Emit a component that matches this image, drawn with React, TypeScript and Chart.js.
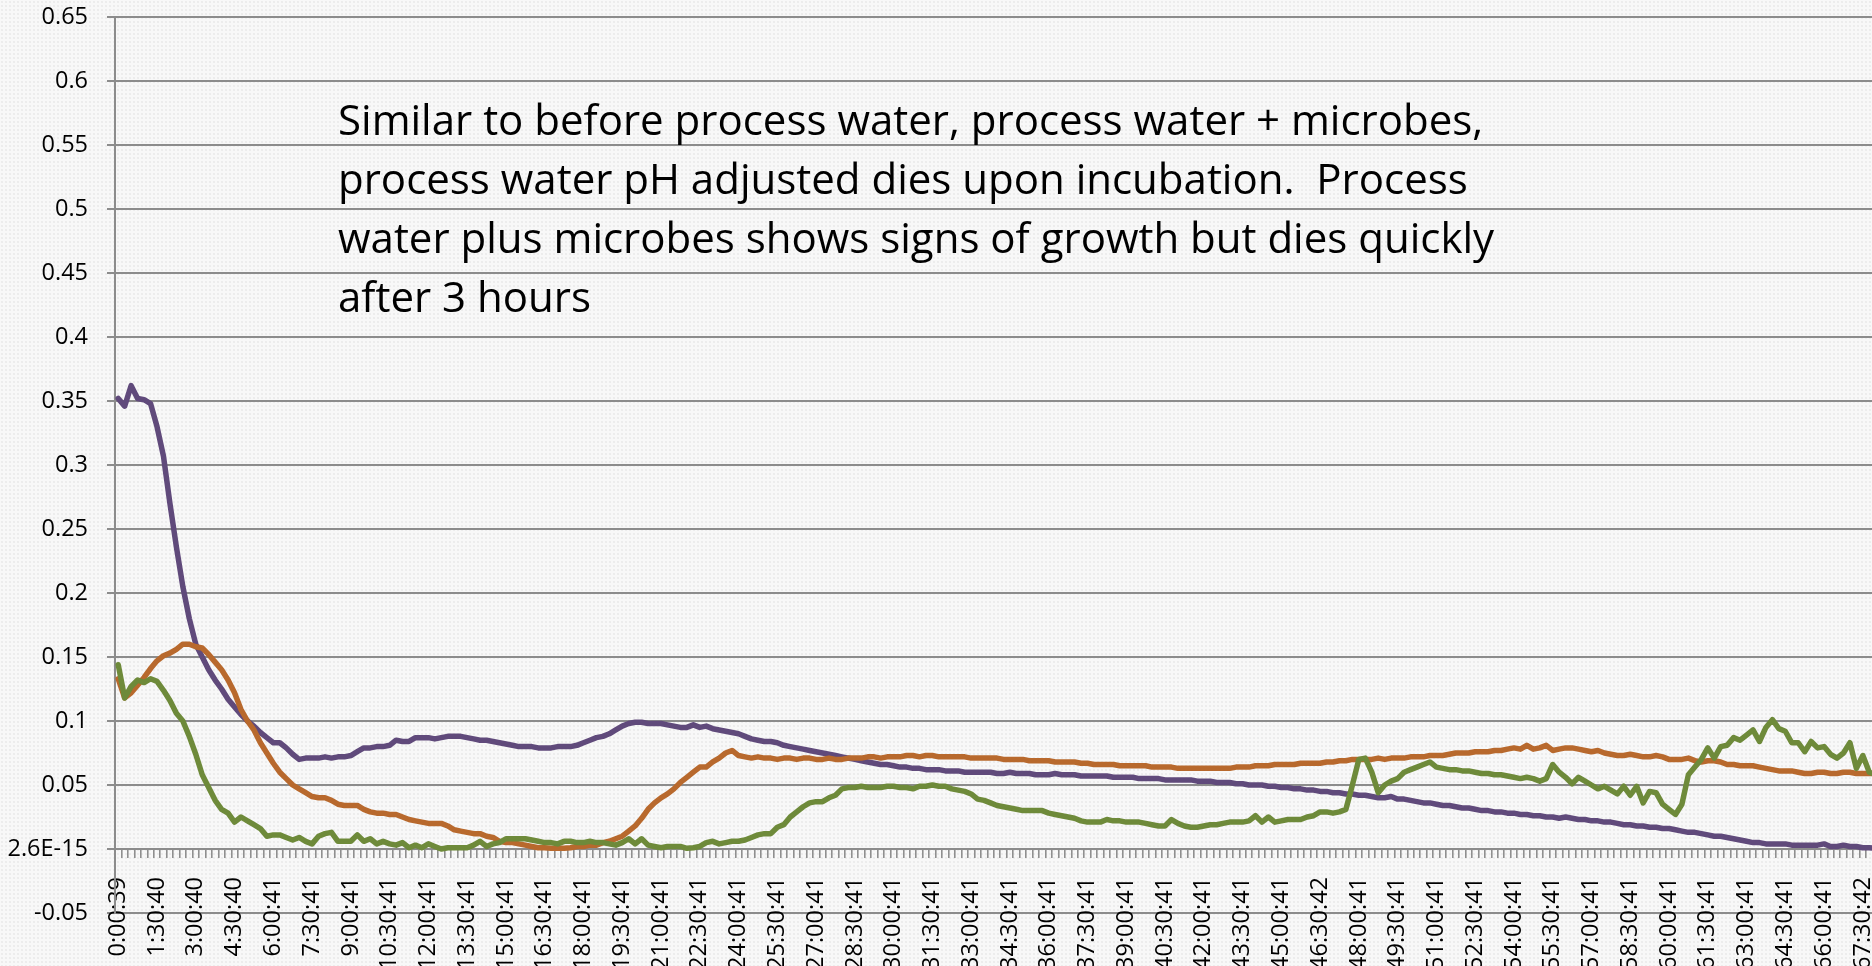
import React, { useEffect, useRef } from 'react';
import { Chart, registerables } from 'chart.js';

Chart.register(...registerables);

// Tick labels shown on the category axis (every 6th sample, 15-minute sampling)
const TICK_LABELS: string[] = [
  '0:00:39', '1:30:40', '3:00:40', '4:30:40', '6:00:41', '7:30:41', '9:00:41', '10:30:41',
  '12:00:41', '13:30:41', '15:00:41', '16:30:41', '18:00:41', '19:30:41', '21:00:41', '22:30:41',
  '24:00:41', '25:30:41', '27:00:41', '28:30:41', '30:00:41', '31:30:41', '33:00:41', '34:30:41',
  '36:00:41', '37:30:41', '39:00:41', '40:30:41', '42:00:41', '43:30:41', '45:00:41', '46:30:42',
  '48:00:41', '49:30:41', '51:00:41', '52:30:41', '54:00:41', '55:30:41', '57:00:41', '58:30:41',
  '60:00:41', '61:30:41', '63:00:41', '64:30:41', '66:00:41', '67:30:42',
];
const SAMPLES_PER_LABEL = 6;

// Series values (absorbance), one value per 15-minute sample
const PURPLE: number[] = [
  0.352, 0.346, 0.362, 0.352, 0.351, 0.348, 0.330, 0.307, 0.270, 0.236,
  0.205, 0.180, 0.160, 0.150, 0.140, 0.132, 0.125, 0.117, 0.111, 0.105,
  0.100, 0.096, 0.091, 0.087, 0.083, 0.083, 0.079, 0.074, 0.070, 0.071,
  0.071, 0.071, 0.072, 0.071, 0.072, 0.072, 0.073, 0.076, 0.079, 0.079,
  0.080, 0.080, 0.081, 0.085, 0.084, 0.084, 0.087, 0.087, 0.087, 0.086,
  0.087, 0.088, 0.088, 0.088, 0.087, 0.086, 0.085, 0.085, 0.084, 0.083,
  0.082, 0.081, 0.080, 0.080, 0.080, 0.079, 0.079, 0.079, 0.080, 0.080,
  0.080, 0.081, 0.083, 0.085, 0.087, 0.088, 0.090, 0.093, 0.096, 0.098,
  0.099, 0.099, 0.098, 0.098, 0.098, 0.097, 0.096, 0.095, 0.095, 0.097,
  0.095, 0.096, 0.094, 0.093, 0.092, 0.091, 0.090, 0.088, 0.086, 0.085,
  0.084, 0.084, 0.083, 0.081, 0.080, 0.079, 0.078, 0.077, 0.076, 0.075,
  0.074, 0.073, 0.072, 0.071, 0.070, 0.069, 0.068, 0.067, 0.066, 0.066,
  0.065, 0.064, 0.064, 0.063, 0.063, 0.062, 0.062, 0.062, 0.061, 0.061,
  0.061, 0.060, 0.060, 0.060, 0.060, 0.060, 0.059, 0.059, 0.060, 0.059,
  0.059, 0.059, 0.058, 0.058, 0.058, 0.059, 0.058, 0.058, 0.058, 0.057,
  0.057, 0.057, 0.057, 0.057, 0.056, 0.056, 0.056, 0.056, 0.055, 0.055,
  0.055, 0.055, 0.054, 0.054, 0.054, 0.054, 0.054, 0.053, 0.053, 0.053,
  0.052, 0.052, 0.052, 0.051, 0.051, 0.050, 0.050, 0.050, 0.049, 0.049,
  0.048, 0.048, 0.047, 0.047, 0.046, 0.046, 0.045, 0.045, 0.044, 0.044,
  0.043, 0.043, 0.042, 0.042, 0.041, 0.040, 0.040, 0.041, 0.039, 0.039,
  0.038, 0.037, 0.036, 0.036, 0.035, 0.034, 0.034, 0.033, 0.032, 0.032,
  0.031, 0.030, 0.030, 0.029, 0.029, 0.028, 0.028, 0.027, 0.027, 0.026,
  0.026, 0.025, 0.025, 0.024, 0.025, 0.024, 0.023, 0.023, 0.022, 0.022,
  0.021, 0.021, 0.020, 0.019, 0.019, 0.018, 0.018, 0.017, 0.017, 0.016,
  0.016, 0.015, 0.014, 0.013, 0.013, 0.012, 0.011, 0.010, 0.010, 0.009,
  0.008, 0.007, 0.006, 0.005, 0.005, 0.004, 0.004, 0.004, 0.004, 0.003,
  0.003, 0.003, 0.003, 0.003, 0.004, 0.002, 0.002, 0.003, 0.002, 0.002,
  0.001, 0.001, 0.0005,
];

const ORANGE: number[] = [
  0.133, 0.118, 0.122, 0.128, 0.134, 0.141, 0.147, 0.151, 0.153, 0.156,
  0.160, 0.160, 0.158, 0.157, 0.152, 0.146, 0.140, 0.132, 0.122, 0.109,
  0.100, 0.093, 0.083, 0.075, 0.067, 0.060, 0.055, 0.050, 0.047, 0.044,
  0.041, 0.040, 0.040, 0.038, 0.035, 0.034, 0.034, 0.034, 0.031, 0.029,
  0.028, 0.028, 0.027, 0.027, 0.025, 0.023, 0.022, 0.021, 0.020, 0.020,
  0.020, 0.018, 0.015, 0.014, 0.013, 0.012, 0.012, 0.010, 0.009, 0.006,
  0.005, 0.005, 0.004, 0.003, 0.002, 0.001, 0.001, 0.0005, 0.0005, 0.0005,
  0.001, 0.002, 0.002, 0.003, 0.003, 0.005, 0.006, 0.008, 0.010, 0.014,
  0.018, 0.024, 0.031, 0.036, 0.040, 0.043, 0.047, 0.052, 0.056, 0.060,
  0.064, 0.064, 0.068, 0.071, 0.075, 0.077, 0.073, 0.072, 0.071, 0.072,
  0.071, 0.071, 0.070, 0.071, 0.071, 0.070, 0.071, 0.071, 0.070, 0.070,
  0.071, 0.070, 0.070, 0.071, 0.071, 0.071, 0.072, 0.072, 0.071, 0.072,
  0.072, 0.072, 0.073, 0.073, 0.072, 0.073, 0.073, 0.072, 0.072, 0.072,
  0.072, 0.072, 0.071, 0.071, 0.071, 0.071, 0.071, 0.070, 0.070, 0.070,
  0.070, 0.069, 0.069, 0.069, 0.069, 0.068, 0.068, 0.068, 0.068, 0.067,
  0.067, 0.066, 0.066, 0.066, 0.066, 0.065, 0.065, 0.065, 0.065, 0.065,
  0.064, 0.064, 0.064, 0.064, 0.063, 0.063, 0.063, 0.063, 0.063, 0.063,
  0.063, 0.063, 0.063, 0.064, 0.064, 0.064, 0.065, 0.065, 0.065, 0.066,
  0.066, 0.066, 0.066, 0.067, 0.067, 0.067, 0.067, 0.068, 0.068, 0.069,
  0.069, 0.070, 0.070, 0.070, 0.070, 0.071, 0.070, 0.071, 0.071, 0.071,
  0.072, 0.072, 0.072, 0.073, 0.073, 0.073, 0.074, 0.075, 0.075, 0.075,
  0.076, 0.076, 0.076, 0.077, 0.077, 0.078, 0.079, 0.078, 0.081, 0.078,
  0.079, 0.081, 0.077, 0.078, 0.079, 0.079, 0.078, 0.077, 0.076, 0.077,
  0.075, 0.074, 0.073, 0.073, 0.074, 0.073, 0.072, 0.072, 0.073, 0.072,
  0.070, 0.070, 0.070, 0.071, 0.069, 0.068, 0.069, 0.069, 0.068, 0.066,
  0.066, 0.065, 0.065, 0.065, 0.064, 0.063, 0.062, 0.061, 0.061, 0.061,
  0.060, 0.059, 0.059, 0.060, 0.060, 0.059, 0.059, 0.060, 0.060, 0.059,
  0.059, 0.059, 0.059,
];

const GREEN: number[] = [
  0.144, 0.118, 0.127, 0.132, 0.130, 0.133, 0.131, 0.124, 0.116, 0.106,
  0.100, 0.088, 0.074, 0.058, 0.048, 0.038, 0.031, 0.028, 0.021, 0.025,
  0.022, 0.019, 0.016, 0.010, 0.011, 0.011, 0.009, 0.007, 0.009, 0.006,
  0.004, 0.010, 0.012, 0.013, 0.006, 0.006, 0.006, 0.011, 0.006, 0.008,
  0.004, 0.006, 0.004, 0.003, 0.005, 0.001, 0.003, 0.001, 0.004, 0.002,
  0.000, 0.001, 0.001, 0.001, 0.001, 0.003, 0.006, 0.002, 0.004, 0.005,
  0.008, 0.008, 0.008, 0.008, 0.007, 0.006, 0.005, 0.005, 0.004, 0.006,
  0.006, 0.005, 0.005, 0.006, 0.005, 0.005, 0.004, 0.003, 0.005, 0.008,
  0.004, 0.008, 0.003, 0.002, 0.001, 0.002, 0.002, 0.002, 0.0005, 0.001,
  0.002, 0.005, 0.006, 0.004, 0.005, 0.006, 0.006, 0.007, 0.009, 0.011,
  0.012, 0.012, 0.017, 0.019, 0.025, 0.029, 0.033, 0.036, 0.037, 0.037,
  0.040, 0.042, 0.047, 0.048, 0.048, 0.049, 0.048, 0.048, 0.048, 0.049,
  0.049, 0.048, 0.048, 0.047, 0.049, 0.049, 0.050, 0.049, 0.049, 0.047,
  0.046, 0.045, 0.043, 0.039, 0.038, 0.036, 0.034, 0.033, 0.032, 0.031,
  0.030, 0.030, 0.030, 0.030, 0.028, 0.027, 0.026, 0.025, 0.024, 0.022,
  0.021, 0.021, 0.021, 0.023, 0.022, 0.022, 0.021, 0.021, 0.021, 0.020,
  0.019, 0.018, 0.018, 0.023, 0.020, 0.018, 0.017, 0.017, 0.018, 0.019,
  0.019, 0.020, 0.021, 0.021, 0.021, 0.022, 0.026, 0.021, 0.025, 0.021,
  0.022, 0.023, 0.023, 0.023, 0.025, 0.026, 0.029, 0.029, 0.028, 0.029,
  0.031, 0.050, 0.070, 0.071, 0.060, 0.044, 0.050, 0.053, 0.055, 0.060,
  0.062, 0.064, 0.066, 0.068, 0.064, 0.063, 0.062, 0.062, 0.061, 0.061,
  0.060, 0.059, 0.059, 0.058, 0.058, 0.057, 0.056, 0.055, 0.056, 0.055,
  0.053, 0.055, 0.066, 0.060, 0.056, 0.051, 0.056, 0.053, 0.050, 0.047,
  0.049, 0.046, 0.043, 0.049, 0.042, 0.049, 0.036, 0.045, 0.044, 0.035,
  0.031, 0.027, 0.035, 0.058, 0.064, 0.070, 0.079, 0.071, 0.080, 0.081,
  0.087, 0.085, 0.089, 0.093, 0.084, 0.095, 0.101, 0.094, 0.092, 0.083,
  0.083, 0.076, 0.084, 0.079, 0.080, 0.074, 0.071, 0.075, 0.083, 0.063,
  0.073, 0.060, 0.058,
];

const Y_MIN = -0.05;
const Y_MAX = 0.65;
const Y_STEP = 0.05;
const ZERO_LABEL = '2.6E-15';

const ANNOTATION_LINES: string[] = [
  'Similar to before process water, process water + microbes,',
  'process water pH adjusted dies upon incubation.  Process',
  'water plus microbes shows signs of growth but dies quickly',
  'after 3 hours',
];

const CANVAS_W = 1879;
const CANVAS_H = 966;
const Y_AXIS_W = 115;
const FONT_FAMILY = "'Open Sans', 'DejaVu Sans', sans-serif";
const TICK_FONT_SIZE = 23.5;

export default function App() {
  const canvasRef = useRef<HTMLCanvasElement | null>(null);

  useEffect(() => {
    const canvas = canvasRef.current;
    if (!canvas) return;
    const n = PURPLE.length;
    const categories: string[] = [];
    for (let i = 0; i < n; i++) {
      categories.push(i % SAMPLES_PER_LABEL === 0 ? (TICK_LABELS[i / SAMPLES_PER_LABEL] ?? '') : '');
    }
    const line = (data: number[], color: string) => ({
      data,
      borderColor: color,
      backgroundColor: color,
      borderWidth: 5.5,
      pointRadius: 0,
      tension: 0,
      fill: false,
      borderJoinStyle: 'round' as const,
      borderCapStyle: 'round' as const,
    });
    const chart = new Chart(canvas, {
      type: 'line',
      data: {
        labels: categories,
        datasets: [
          line(GREEN, '#6e8a3a'),
          line(ORANGE, '#b8692d'),
          line(PURPLE, '#604a7b'),
        ],
      },
      options: {
        animation: false,
        responsive: false,
        maintainAspectRatio: false,
        layout: { padding: { top: 17, left: 0, right: 0, bottom: 53 } },
        plugins: {
          legend: { display: false },
          tooltip: { enabled: false },
        },
        scales: {
          x: {
            type: 'category',
            position: { y: 0 } as any,
            offset: true,
            grid: {
              offset: true,
              drawOnChartArea: false,
              drawTicks: true,
              tickLength: 8,
              color: '#8f8f8f',
              lineWidth: 1.6,
            },
            border: { display: true, color: '#8c8c8c', width: 2 },
            ticks: {
              autoSkip: false,
              maxRotation: 90,
              minRotation: 90,
              padding: 20,
              color: '#000',
              font: { family: FONT_FAMILY, size: TICK_FONT_SIZE },
            },
            afterFit: (scale: any) => {
              scale.paddingLeft = 0;
              scale.paddingRight = 0;
            },
          },
          y: {
            type: 'linear',
            min: Y_MIN,
            max: Y_MAX,
            grid: {
              color: '#8c8c8c',
              lineWidth: 2,
              drawTicks: true,
              tickLength: 8,
            },
            border: { display: true, color: '#8c8c8c', width: 2 },
            ticks: {
              stepSize: Y_STEP,
              padding: 19,
              color: '#000',
              font: { family: FONT_FAMILY, size: TICK_FONT_SIZE },
              callback: (v: any) => {
                const num = Number(v);
                if (Math.abs(num) < 1e-9) return ZERO_LABEL;
                return String(Math.round(num * 100) / 100);
              },
            },
            afterFit: (scale: any) => {
              scale.width = Y_AXIS_W;
              scale.paddingTop = 0;
              scale.paddingBottom = 0;
            },
          },
        },
      },
    });
    return () => chart.destroy();
  }, []);

  return (
    <div
      style={{
        position: 'fixed',
        left: 0,
        top: 0,
        width: 1872,
        height: 966,
        overflow: 'hidden',
        backgroundColor: '#f8f8f8',
        backgroundImage: 'radial-gradient(#ececec 0.7px, transparent 1px)',
        backgroundSize: '4px 4px',
      }}
    >
      <canvas
        ref={canvasRef}
        width={CANVAS_W}
        height={CANVAS_H}
        style={{ position: 'absolute', left: 0, top: 0, width: CANVAS_W, height: CANVAS_H }}
      />
      <div
        style={{
          position: 'absolute',
          left: 338,
          top: 89,
          fontFamily: FONT_FAMILY,
          fontSize: 42,
          lineHeight: '59px',
          color: '#000',
          whiteSpace: 'nowrap',
        }}
      >
        {ANNOTATION_LINES.map((t, i) => (
          <div key={i} style={{ whiteSpace: 'pre' }}>{t}</div>
        ))}
      </div>
    </div>
  );
}
